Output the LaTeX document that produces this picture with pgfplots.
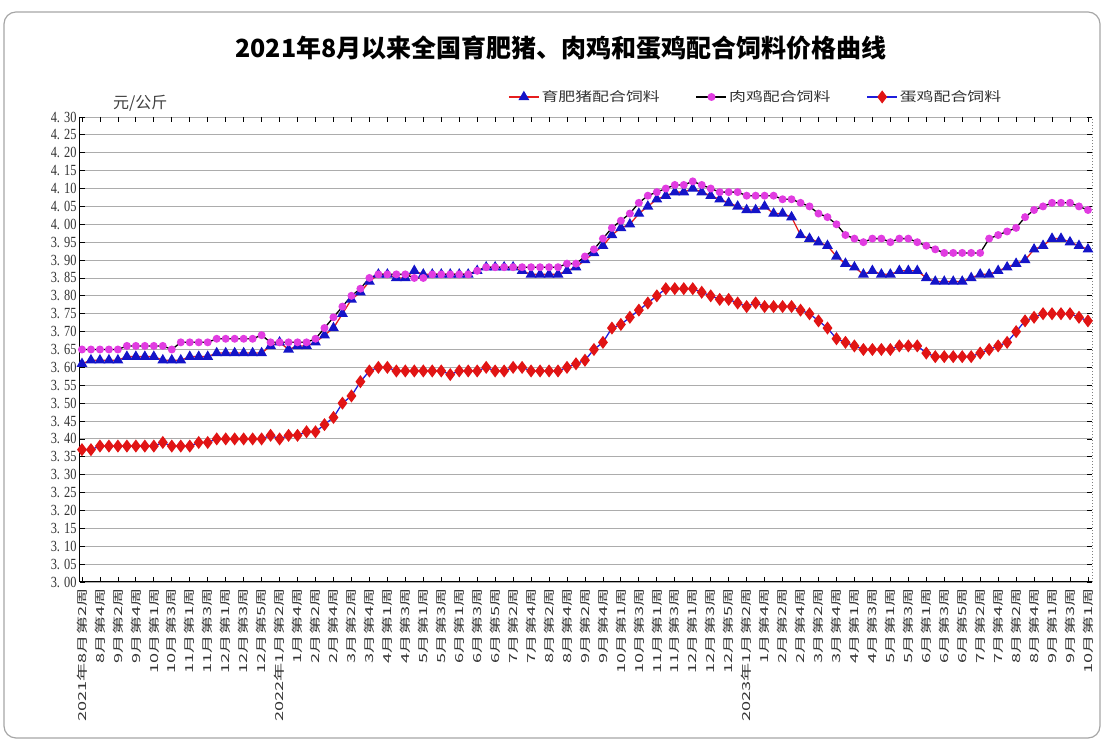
\documentclass[border=0pt]{standalone}
\usepackage{fontspec}
\setmainfont{Liberation Serif}
\newfontfamily\cjk{Noto Sans CJK SC}
\newfontfamily\cjkleg[FakeStretch=1.3]{Noto Sans CJK SC}
\newfontfamily\cjkx[FakeStretch=1.65]{Noto Sans CJK SC}
\newfontfamily\numfont[FakeStretch=0.8]{Liberation Serif}
\usepackage{pgfplots}
\pgfplotsset{compat=1.18}
\usepackage{pgfplotstable}

\definecolor{pigblue}{RGB}{20,20,200}
\definecolor{pigline}{RGB}{230,30,30}
\definecolor{broilmag}{RGB}{225,60,225}
\definecolor{layred}{RGB}{225,20,20}
\definecolor{layline}{RGB}{30,30,220}

% weekly national average price, yuan/kg: pig, broiler, layer feed
\pgfplotstableread{
i pig broil layer
0 3.61 3.65 3.37
1 3.62 3.65 3.37
2 3.62 3.65 3.38
3 3.62 3.65 3.38
4 3.62 3.65 3.38
5 3.63 3.66 3.38
6 3.63 3.66 3.38
7 3.63 3.66 3.38
8 3.63 3.66 3.38
9 3.62 3.66 3.39
10 3.62 3.65 3.38
11 3.62 3.67 3.38
12 3.63 3.67 3.38
13 3.63 3.67 3.39
14 3.63 3.67 3.39
15 3.64 3.68 3.40
16 3.64 3.68 3.40
17 3.64 3.68 3.40
18 3.64 3.68 3.40
19 3.64 3.68 3.40
20 3.64 3.69 3.40
21 3.66 3.67 3.41
22 3.67 3.67 3.40
23 3.65 3.67 3.41
24 3.66 3.67 3.41
25 3.66 3.67 3.42
26 3.67 3.68 3.42
27 3.69 3.71 3.44
28 3.71 3.74 3.46
29 3.75 3.77 3.50
30 3.79 3.80 3.52
31 3.81 3.82 3.56
32 3.84 3.85 3.59
33 3.86 3.86 3.60
34 3.86 3.86 3.60
35 3.85 3.86 3.59
36 3.85 3.86 3.59
37 3.87 3.85 3.59
38 3.86 3.85 3.59
39 3.86 3.86 3.59
40 3.86 3.86 3.59
41 3.86 3.86 3.58
42 3.86 3.86 3.59
43 3.86 3.86 3.59
44 3.87 3.87 3.59
45 3.88 3.88 3.60
46 3.88 3.88 3.59
47 3.88 3.88 3.59
48 3.88 3.88 3.60
49 3.87 3.88 3.60
50 3.86 3.88 3.59
51 3.86 3.88 3.59
52 3.86 3.88 3.59
53 3.86 3.88 3.59
54 3.87 3.89 3.60
55 3.88 3.89 3.61
56 3.90 3.91 3.62
57 3.92 3.93 3.65
58 3.94 3.96 3.67
59 3.97 3.99 3.71
60 3.99 4.01 3.72
61 4.00 4.03 3.74
62 4.03 4.06 3.76
63 4.05 4.08 3.78
64 4.07 4.09 3.80
65 4.08 4.10 3.82
66 4.09 4.11 3.82
67 4.09 4.11 3.82
68 4.10 4.12 3.82
69 4.09 4.11 3.81
70 4.08 4.10 3.80
71 4.07 4.09 3.79
72 4.06 4.09 3.79
73 4.05 4.09 3.78
74 4.04 4.08 3.77
75 4.04 4.08 3.78
76 4.05 4.08 3.77
77 4.03 4.08 3.77
78 4.03 4.07 3.77
79 4.02 4.07 3.77
80 3.97 4.06 3.76
81 3.96 4.05 3.75
82 3.95 4.03 3.73
83 3.94 4.02 3.71
84 3.91 4.00 3.68
85 3.89 3.97 3.67
86 3.88 3.96 3.66
87 3.86 3.95 3.65
88 3.87 3.96 3.65
89 3.86 3.96 3.65
90 3.86 3.95 3.65
91 3.87 3.96 3.66
92 3.87 3.96 3.66
93 3.87 3.95 3.66
94 3.85 3.94 3.64
95 3.84 3.93 3.63
96 3.84 3.92 3.63
97 3.84 3.92 3.63
98 3.84 3.92 3.63
99 3.85 3.92 3.63
100 3.86 3.92 3.64
101 3.86 3.96 3.65
102 3.87 3.97 3.66
103 3.88 3.98 3.67
104 3.89 3.99 3.70
105 3.90 4.02 3.73
106 3.93 4.04 3.74
107 3.94 4.05 3.75
108 3.96 4.06 3.75
109 3.96 4.06 3.75
110 3.95 4.06 3.75
111 3.94 4.05 3.74
112 3.93 4.04 3.73
}\feed

\begin{document}
\begin{tikzpicture}[x=1pt,y=1pt]
\path[use as bounding box] (0,0) rectangle (1106,743);
\draw[gray!70, rounded corners=12pt, line width=1.2pt] (4,5) rectangle (1100,731);
\begin{axis}[
    at={(80pt,161pt)}, anchor=south west,
    scale only axis,
    width=1012pt, height=465pt,
    xmin=-0.22, xmax=112.45,
    ymin=3, ymax=4.3,
    clip=false,
    axis line style={draw=none},
    ymajorgrids,
    grid style={gray!65, line width=0.9pt},
    major tick length=5pt,
    tick style={black, line width=0.8pt},
    ytick={3.00,3.05,3.10,3.15,3.20,3.25,3.30,3.35,3.40,3.45,3.50,3.55,3.60,3.65,3.70,3.75,3.80,3.85,3.90,3.95,4.00,4.05,4.10,4.15,4.20,4.25,4.30},
    yticklabel style={font=\numfont\fontsize{15.5}{17}\selectfont, text=black!80,
        /pgf/number format/.cd, fixed, fixed zerofill, precision=2,
        dec sep={.\hspace{4pt}}, assume math mode=true},
    xtick={0,2,...,112},
    xticklabels={2021年8月第2周,8月第4周,9月第2周,9月第4周,10月第1周,10月第3周,11月第1周,11月第3周,12月第1周,12月第3周,12月第5周,
        2022年1月第2周,1月第4周,2月第2周,2月第4周,3月第2周,3月第4周,4月第1周,4月第3周,5月第1周,5月第3周,6月第1周,6月第3周,6月第5周,7月第2周,7月第4周,8月第2周,8月第4周,9月第2周,9月第4周,10月第1周,10月第3周,11月第1周,11月第3周,12月第1周,12月第3周,12月第5周,
        2023年1月第2周,1月第4周,2月第2周,2月第4周,3月第2周,3月第4周,4月第1周,4月第3周,5月第1周,5月第3周,6月第1周,6月第3周,6月第5周,7月第2周,7月第4周,8月第2周,8月第4周,9月第1周,9月第3周,10月第1周},
    xticklabel style={rotate=90, anchor=east, font=\cjkx\fontsize{11}{13}\selectfont, text=black!80},
    xticklabel shift=3pt,
    legend columns=3,
    legend style={at={(0.42,1.043)}, anchor=west, draw=none, fill=none,
        font=\cjkleg\fontsize{13}{15}\selectfont, text=black!80,
        /tikz/every even column/.append style={column sep=34pt}},
    legend image code/.code={\draw[mark repeat=2,mark phase=2] plot coordinates {(0pt,0pt)(15pt,0pt)(30pt,0pt)};},
]
\draw[black, line width=1pt] (rel axis cs:0,1) -- (rel axis cs:0,0) -- (rel axis cs:1,0);
\draw[gray, dotted, line width=1pt] (rel axis cs:1,0) -- (rel axis cs:1,1);

\addplot[pigline, line width=1.3pt, mark=triangle*, mark size=5pt,
    mark options={solid, fill=pigblue, draw=pigblue}] table[x=i, y=pig] {\feed};
\addlegendentry{育肥猪配合饲料}
\addplot[black, line width=1.3pt, mark=*, mark size=3.3pt,
    mark options={solid, fill=broilmag, draw=broilmag}] table[x=i, y=broil] {\feed};
\addlegendentry{肉鸡配合饲料}
\addplot[layline, line width=1.3pt, mark=diamond*, mark size=5.5pt,
    mark options={solid, fill=layred, draw=layred}] table[x=i, y=layer] {\feed};
\addlegendentry{蛋鸡配合饲料}
\end{axis}
\node[font=\cjk\bfseries\fontsize{25}{28}\selectfont] at (561,695) {2021年8月以来全国育肥猪、肉鸡和蛋鸡配合饲料价格曲线};
\node[anchor=west, inner sep=0pt, font=\cjk\fontsize{16}{18}\selectfont, text=black!75] at (113,640) {元/公斤};
\end{tikzpicture}
\end{document}
